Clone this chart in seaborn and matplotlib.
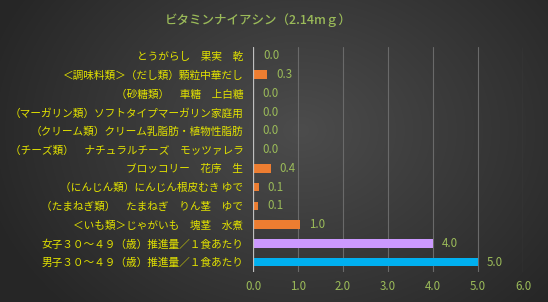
import numpy as np
import pandas as pd
import matplotlib
matplotlib.use("Agg")
import matplotlib.pyplot as plt
import seaborn as sns

title = "ビタミンナイアシン（2.14mｇ）"
categories = [
    "とうがらし　果実　乾",
    "＜調味料類＞（だし類）顆粒中華だし",
    "（砂糖類）　車糖　上白糖",
    "（マーガリン類）ソフトタイプマーガリン家庭用",
    "（クリーム類）クリーム乳脂肪・植物性脂肪",
    "（チーズ類）　ナチュラルチーズ　モッツァレラ",
    "ブロッコリー　花序　生",
    "（にんじん類）にんじん根皮むき ゆで",
    "（たまねぎ類）　たまねぎ　りん茎　ゆで",
    "＜いも類＞じゃがいも　塊茎　水煮",
    "女子３０～４９（歳）推進量／１食あたり",
    "男子３０～４９（歳）推進量／１食あたり",
]
values = [0.03, 0.32, 0.0, 0.0, 0.0, 0.0, 0.39, 0.13, 0.11, 1.04, 4.0, 5.0]
bar_colors = ["#ed7d31"] * 10 + ["#cc99ff", "#00b0f0"]
xticks = [0, 1, 2, 3, 4, 5, 6]

sns.set_theme(style="dark")
plt.rcParams["font.family"] = ["Noto Sans CJK JP", "DejaVu Sans"]

W, H = 548, 302
fig = plt.figure(figsize=(W / 100, H / 100), dpi=100)

# background radial gradient
bg = fig.add_axes([0, 0, 1, 1], zorder=-10)
yy, xx = np.mgrid[0:H, 0:W]
cx, cy = 300, 130
r = np.sqrt(((xx - cx) / 330.0) ** 2 + ((yy - cy) / 260.0) ** 2)
r = np.clip(r, 0, 1)
c0, c1 = 0x4c, 0x26
g = (c0 + (c1 - c0) * r) / 255.0
img = np.dstack([g, g, g])
bg.imshow(img, aspect="auto", extent=[0, 1, 0, 1], origin="upper")
bg.axis("off")

ax = fig.add_axes([253 / W, 1 - 271.5 / H, (523 - 253) / W, (271.5 - 46.5) / H])
ax.set_facecolor("none")

df = pd.DataFrame({"cat": categories, "val": values})
sns.barplot(data=df, x="val", y="cat", hue="cat", palette=bar_colors,
            orient="h", width=0.45, legend=False, ax=ax, saturation=1,
            linewidth=0, edgecolor="none")

ax.set_xlim(0, 6)
ax.set_xticks(xticks)
ax.set_xticklabels([f"{v:.1f}" for v in xticks], color="#9bbb59", fontsize=8.3)
ax.set_ylabel("")
ax.set_xlabel("")
ax.tick_params(axis="y", labelsize=7.7, pad=7, length=0)
ax.tick_params(axis="x", pad=6, length=0)
for lab in ax.get_yticklabels():
    lab.set_color("#e2e200")

ax.grid(axis="x", color="#6a6a6a", linewidth=0.8)
ax.grid(axis="y", visible=False)
for s in ax.spines.values():
    s.set_visible(False)
ax.axvline(0, color="#bfbfbf", linewidth=0.9, zorder=3)

for i, v in enumerate(values):
    ax.text(v + 0.2, i, f"{v:.1f}", va="center", ha="left",
            color="#9bbb59", fontsize=8.3)

fig.text(258 / W, 1 - 20 / H, title, ha="center", va="center",
         color="#9bbb59", fontsize=9, fontweight="medium")

fig.savefig("out.png", dpi=100)
